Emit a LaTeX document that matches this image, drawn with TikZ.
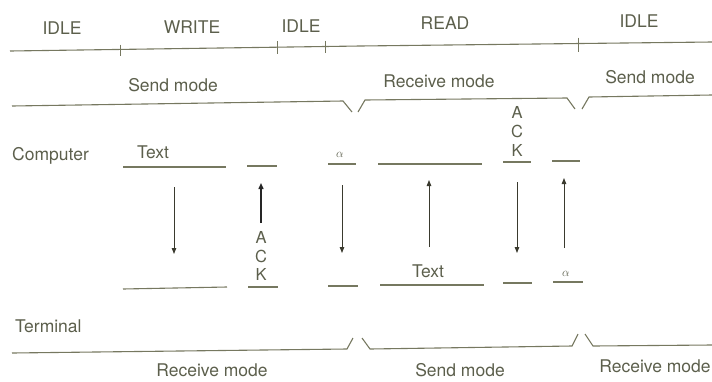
\documentclass[tikz,border=0pt]{standalone}
\usepackage{fontspec}
\setmainfont{TeX Gyre Heros}
\usetikzlibrary{arrows.meta}
\definecolor{txt}{RGB}{92,95,76}
\definecolor{ln}{RGB}{118,120,96}
\definecolor{arr}{RGB}{58,58,46}
\begin{document}
\begin{tikzpicture}[x=1pt,y=-1pt,
  lbl/.style={text=txt,font=\fontsize{17.5}{18}\selectfont,inner sep=0pt,anchor=base},
  acklbl/.style={text=txt,font=\fontsize{16.5}{18}\selectfont,inner sep=0pt,anchor=base},
  alph/.style={text=txt,font=\fontsize{12}{12}\selectfont,inner sep=0pt,anchor=base},
  seg/.style={draw=ln,line width=1.1pt},
  tick/.style={draw=ln,line width=0.8pt},
  flow/.style={draw=arr,line width=0.9pt,-{Triangle[length=6pt,width=4.5pt]}},
  flowdark/.style={draw=black!85,line width=1.4pt,-{Triangle[length=6pt,width=5pt]}},
  ]
\useasboundingbox (0,0) rectangle (712,381);

% ---- phase time line ----
\draw[seg] (10,51) -- (360,46) -- (712,42);
\draw[tick] (120,44.5) -- (120,55.5);
\draw[tick] (277,41) -- (277,54);
\draw[tick] (325,40.5) -- (325,53);
\draw[tick] (578,37.5) -- (578,51.5);

\node[lbl] (idle1) at (62,34) {IDLE};
\node[lbl] (write) at (192,33) {WRITE};
\node[lbl] (idle2) at (301,32) {IDLE};
\node[lbl] (read)  at (445,29) {READ};
\node[lbl] (idle3) at (639,27) {IDLE};

% ---- computer mode line ----
\draw[seg] (12,106) -- (343,101) -- (352,112);
\draw[seg] (358,112) -- (365,100) -- (567,98) -- (575,109);
\draw[seg] (582,109) -- (589,97) -- (712,95);
\node[lbl] (cmsend1) at (173,91) {Send mode};
\node[lbl] (cmrecv)  at (439,87) {Receive mode};
\node[lbl] (cmsend2) at (650,83) {Send mode};

% ---- side labels ----
\node[lbl,anchor=base west] (computer) at (12,160) {Computer};
\node[lbl,anchor=base west] (terminal) at (15,332) {Terminal};

% ---- computer side segments ----
\draw[seg] (123,167) -- (226,167);
\draw[seg] (247,166) -- (277,166);
\draw[seg] (328,164) -- (356,164);
\draw[seg] (378,164) -- (482,164);
\draw[seg] (503,162) -- (531,162);
\draw[seg] (552,161) -- (580,161);

% ---- terminal side segments ----
\draw[seg] (123,289) -- (227,287);
\draw[seg] (248,287) -- (278,287);
\draw[seg] (328,286) -- (358,286);
\draw[seg] (380,285) -- (484,285);
\draw[seg] (503,283) -- (532,283);
\draw[seg] (553,282) -- (583,282);

% ---- labels on segments ----
\node[lbl] (text1) at (153,158) {Text};
\node[alph] (alpha1) at (340,157) {$\alpha$};
\node[acklbl] (ackA1) at (261,243) {A};
\node[acklbl] (ackC1) at (261,262) {C};
\node[acklbl] (ackK1) at (261,280) {K};
\node[acklbl] (ackA2) at (517,118) {A};
\node[acklbl] (ackC2) at (517,137) {C};
\node[acklbl] (ackK2) at (517,156) {K};
\node[lbl] (text2) at (428,277) {Text};
\node[alph] (alpha2) at (566,276) {$\alpha$};

% ---- transfers ----
\coordinate (t1s) at (174,187); \coordinate (t1e) at (174,254);
\coordinate (k1s) at (261,223); \coordinate (k1e) at (261,183);
\coordinate (a1s) at (342,185); \coordinate (a1e) at (342,253);
\coordinate (t2s) at (429,247); \coordinate (t2e) at (429,180);
\coordinate (k2s) at (517,182); \coordinate (k2e) at (517,253);
\coordinate (a2s) at (564,248); \coordinate (a2e) at (564,178);
\draw[flow] (t1s) -- (t1e);
\draw[flowdark] (k1s) -- (k1e);
\draw[flow] (a1s) -- (a1e);
\draw[flow] (t2s) -- (t2e);
\draw[flow] (k2s) -- (k2e);
\draw[flow] (a2s) -- (a2e);

% ---- terminal mode line ----
\draw[seg] (12,353) -- (347,349) -- (353,338);
\draw[seg] (362,338) -- (370,349) -- (572,346) -- (578,334);
\draw[seg] (585,334) -- (593,346) -- (712,345);
\node[lbl] (tmrecv1) at (212,376.5) {Receive mode};
\node[lbl] (tmsend)  at (460,376) {Send mode};
\node[lbl] (tmrecv2) at (655,372) {Receive mode};
\end{tikzpicture}
\end{document}
